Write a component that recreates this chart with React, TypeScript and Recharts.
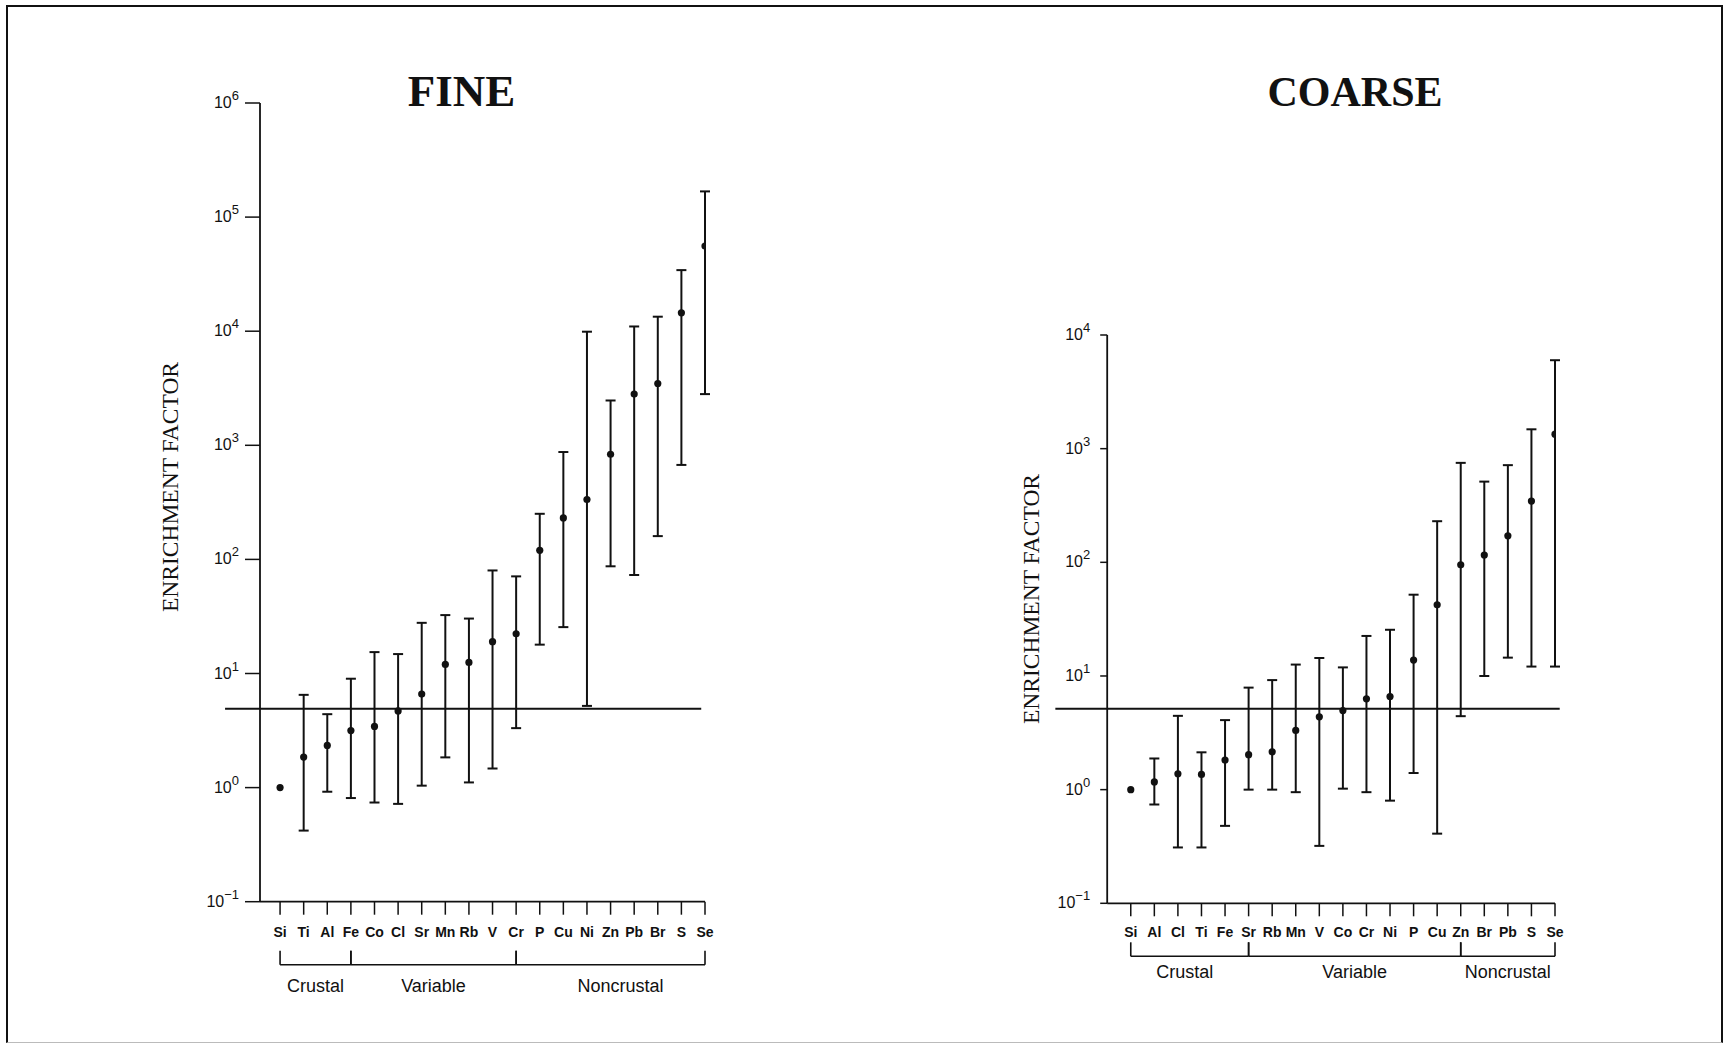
import { ScatterChart, Scatter, XAxis, YAxis, ErrorBar, ReferenceLine } from 'recharts';

// Fine particles
const FINE_ELEMENTS = ['Si', 'Ti', 'Al', 'Fe', 'Co', 'Cl', 'Sr', 'Mn', 'Rb', 'V', 'Cr', 'P', 'Cu', 'Ni', 'Zn', 'Pb', 'Br', 'S', 'Se'];
const FINE_EF = [1.0, 1.85, 2.34, 3.16, 3.44, 4.7, 6.6, 12, 12.5, 19, 22.3, 120, 231, 335, 835, 2810, 3480, 14500, 55700];
const FINE_HIGH = [null, 6.5, 4.4, 9.0, 15.4, 14.8, 27.8, 32.5, 30.3, 80, 71, 251, 873, 9900, 2470, 11000, 13400, 34300, 168000];
const FINE_LOW = [null, 0.42, 0.92, 0.81, 0.74, 0.72, 1.04, 1.84, 1.11, 1.47, 3.32, 17.9, 25.5, 5.2, 87, 73, 160, 673, 2810];
const FINE_GROUPS = [
  { label: 'Crustal', from: 0, to: 3, shift: 0 },
  { label: 'Variable', from: 3, to: 10, shift: 0 },
  { label: 'Noncrustal', from: 10, to: 18, shift: 10 },
];
const FINE_TICKS = [0.1, 1, 10, 100, 1000, 10000, 100000, 1000000];
const FINE_REF = 4.9;

// Coarse particles
const COARSE_ELEMENTS = ['Si', 'Al', 'Cl', 'Ti', 'Fe', 'Sr', 'Rb', 'Mn', 'V', 'Co', 'Cr', 'Ni', 'P', 'Cu', 'Zn', 'Br', 'Pb', 'S', 'Se'];
const COARSE_EF = [1.0, 1.17, 1.38, 1.36, 1.82, 2.03, 2.15, 3.32, 4.37, 4.96, 6.3, 6.6, 13.8, 42.3, 95, 116, 171, 346, 1340];
const COARSE_HIGH = [null, 1.88, 4.46, 2.13, 4.09, 7.9, 9.2, 12.6, 14.4, 11.9, 22.5, 25.5, 51.9, 230, 750, 513, 716, 1480, 6000];
const COARSE_LOW = [null, 0.74, 0.31, 0.31, 0.48, 1.0, 1.0, 0.95, 0.32, 1.02, 0.95, 0.8, 1.4, 0.41, 4.43, 10, 14.5, 12.1, 12.1];
const COARSE_GROUPS = [
  { label: 'Crustal', from: 0, to: 5, shift: -5 },
  { label: 'Variable', from: 5, to: 14, shift: 0 },
  { label: 'Noncrustal', from: 14, to: 18, shift: 0 },
];
const COARSE_TICKS = [0.1, 1, 10, 100, 1000, 10000];
const COARSE_REF = 5.15;

const INK = '#111';
const SANS = '"Liberation Sans", Arial, sans-serif';
const SERIF = '"Liberation Serif", "Times New Roman", serif';

type Group = { label: string; from: number; to: number; shift: number };

function toRows(ef: number[], low: (number | null)[], high: (number | null)[]) {
  return ef.map((v, i) => ({
    x: i,
    y: v,
    err: low[i] == null ? undefined : [v - (low[i] as number), (high[i] as number) - v],
  }));
}

function PowerTick({ x, y, payload }: any) {
  const e = Math.round(Math.log10(payload.value));
  return (
    <text x={x} y={y + 5} textAnchor="end" fontFamily={SANS} fontSize={16} fill={INK}>
      10<tspan dy={-8} fontSize={13}>{e < 0 ? '\u2212' + -e : e}</tspan>
    </text>
  );
}

function ElementTick({ x, y, payload, names, groups, step, off }: any) {
  const i = payload.value;
  const g: Group | undefined = groups.find((gr: Group) => gr.from === i);
  return (
    <g>
      <text x={x} y={y + off.label} textAnchor="middle" fontFamily={SANS} fontSize={14} fontWeight={700} fill={INK}>
        {names[i]}
      </text>
      {g && (
        <g stroke={INK} strokeWidth={1.6}>
          <line x1={x} x2={x + (g.to - g.from) * step} y1={y + off.bracket} y2={y + off.bracket} />
          <line x1={x} x2={x} y1={y + off.bracketTop} y2={y + off.bracket} />
          <line x1={x + (g.to - g.from) * step} x2={x + (g.to - g.from) * step} y1={y + off.bracketTop} y2={y + off.bracket} />
          <text
            x={x + ((g.to - g.from) / 2) * step + g.shift}
            y={y + off.group}
            textAnchor="middle"
            fontFamily={SANS}
            fontSize={18}
            stroke="none"
            fill={INK}
          >
            {g.label}
          </text>
        </g>
      )}
    </g>
  );
}

const Dot = (p: any) => <circle cx={p.cx} cy={p.cy} r={3.6} fill={INK} />;

function EFChart(props: any) {
  const { names, rows, groups, ticks, yMax, xMin, refY, refFrom, refTo, box, off, labelX, labelY } = props;
  const plotW = box.width - box.ml - box.yw - box.mr;
  const step = plotW / (names.length - 1 - xMin);
  return (
    <div style={{ position: 'absolute', left: box.left, top: 0 }}>
      <ScatterChart width={box.width} height={1044} margin={{ top: box.top, right: box.mr, bottom: box.mb, left: box.ml }}>
        <XAxis
          type="number"
          dataKey="x"
          domain={[xMin, names.length - 1]}
          allowDataOverflow
          ticks={names.map((_: string, i: number) => i)}
          interval={0}
          height={100}
          tickSize={13}
          tickMargin={0}
          axisLine={{ stroke: INK, strokeWidth: 1.8 }}
          tickLine={{ stroke: INK, strokeWidth: 1.5 }}
          tick={(p: any) => <ElementTick {...p} names={names} groups={groups} step={step} off={off} />}
        />
        <YAxis
          type="number"
          dataKey="y"
          scale="log"
          domain={[0.1, yMax]}
          allowDataOverflow
          ticks={ticks}
          interval={0}
          width={box.yw}
          tickSize={box.ytick}
          tickMargin={box.ygap}
          axisLine={{ stroke: INK, strokeWidth: 1.8 }}
          tickLine={{ stroke: INK, strokeWidth: 1.5 }}
          tick={PowerTick}
          label={{
            content: () => (
              <text
                transform={`translate(${labelX},${labelY}) rotate(-90)`}
                textAnchor="middle"
                fontFamily={SERIF}
                fontSize={23.5}
                fill={INK}
              >
                ENRICHMENT FACTOR
              </text>
            ),
          }}
        />
        <ReferenceLine
          segment={[{ x: refFrom, y: refY }, { x: refTo, y: refY }]}
          ifOverflow="visible"
          stroke={INK}
          strokeWidth={2}
        />
        <Scatter data={rows} shape={Dot} isAnimationActive={false}>
          <ErrorBar dataKey="err" direction="y" width={5} stroke={INK} strokeWidth={2} isAnimationActive={false} />
        </Scatter>
      </ScatterChart>
    </div>
  );
}

export default function App() {
  const fineRows = toRows(FINE_EF, FINE_LOW, FINE_HIGH);
  const coarseRows = toRows(COARSE_EF, COARSE_LOW, COARSE_HIGH);
  return (
    <div style={{ position: 'absolute', left: 0, top: 0, width: 1723, height: 1044, background: '#fff', overflow: 'hidden' }}>
      <div
        style={{
          position: 'absolute', left: 6, top: 5, width: 1713, height: 1035,
          borderTop: '2px solid #111', borderLeft: '2px solid #111', borderRight: '2px solid #111',
          borderBottom: '1px solid #bbb',
        }}
      />
      <EFChart
        names={FINE_ELEMENTS}
        rows={fineRows}
        groups={FINE_GROUPS}
        ticks={FINE_TICKS}
        yMax={1e6}
        xMin={-0.85}
        refY={FINE_REF}
        refFrom={-2.33}
        refTo={17.84}
        box={{ left: 0, width: 760, top: 103, mb: 42.3, ml: 180, yw: 80, mr: 55, ytick: 15, ygap: 6 }}
        off={{ label: 22, bracketTop: 36, bracket: 50, group: 77 }}
        labelX={178}
        labelY={487}
      />
      <EFChart
        names={COARSE_ELEMENTS}
        rows={coarseRows}
        groups={COARSE_GROUPS}
        ticks={COARSE_TICKS}
        yMax={1e4}
        xMin={-1.0}
        refY={COARSE_REF}
        refFrom={-3.2}
        refTo={18.2}
        box={{ left: 800, width: 923, top: 335, mb: 40.7, ml: 227.2, yw: 80, mr: 168, ytick: 7, ygap: 10 }}
        off={{ label: 21, bracketTop: 26, bracket: 40, group: 62 }}
        labelX={238.5}
        labelY={599}
      />
      <svg width={1723} height={1044} style={{ position: 'absolute', left: 0, top: 0, pointerEvents: 'none' }}>
        <text x={461.6} y={106} textAnchor="middle" fontFamily={SERIF} fontWeight={700} fontSize={45} fill={INK}>
          FINE
        </text>
        <text x={1355} y={106} textAnchor="middle" fontFamily={SERIF} fontWeight={700} fontSize={42} fill={INK}>
          COARSE
        </text>
      </svg>
    </div>
  );
}
